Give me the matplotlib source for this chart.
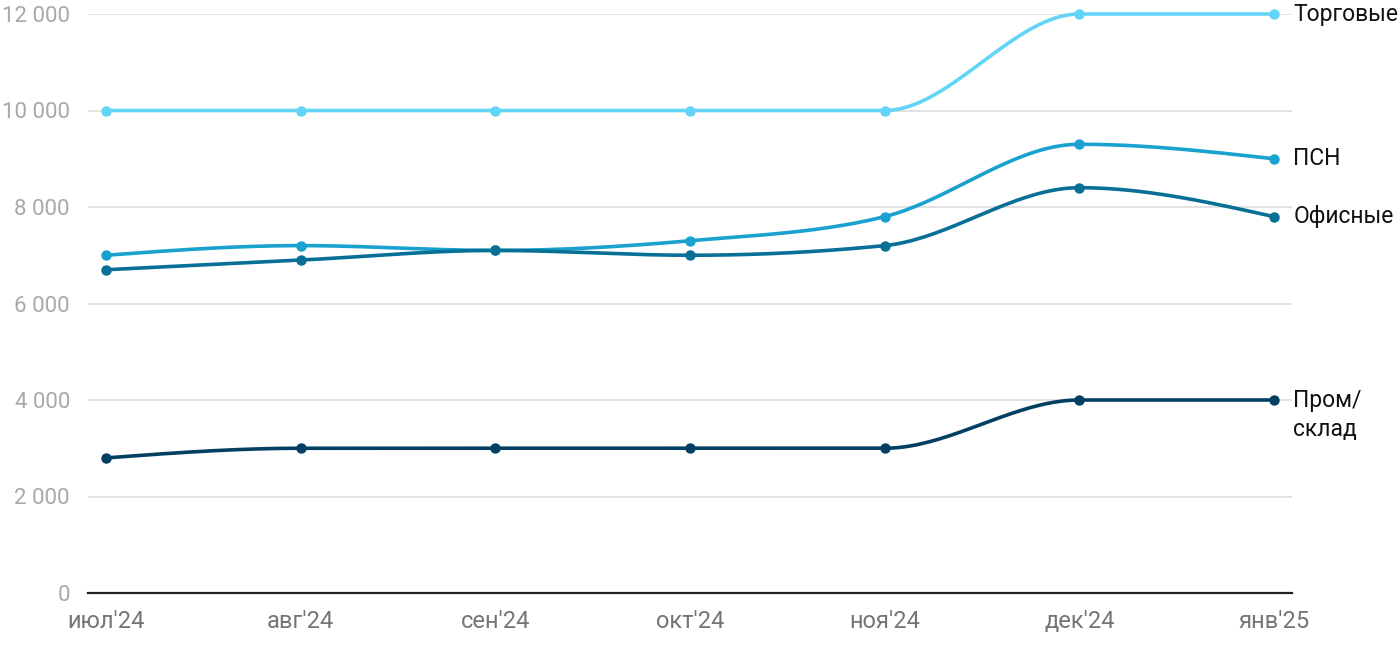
import numpy as np
import matplotlib.pyplot as plt

plt.rcParams['font.family'] = ['Roboto', 'DejaVu Sans']

months = ["июл'24", "авг'24", "сен'24", "окт'24", "ноя'24", "дек'24", "янв'25"]
trade = [10000, 10000, 10000, 10000, 10000, 12000, 12000]
psn = [7000, 7200, 7100, 7300, 7800, 9300, 9000]
office = [6700, 6900, 7100, 7000, 7200, 8400, 7800]
warehouse = [2800, 3000, 3000, 3000, 3000, 4000, 4000]

series = [
    ("Торговые", trade, "#62d4f6"),
    ("ПСН", psn, "#19a2cf"),
    ("Офисные", office, "#086f97"),
    ("Пром/\nсклад", warehouse, "#033f63"),
]


# monotone cubic curve (like d3.curveMonotoneX) for drawing the lines
def monotone_curve(x, y, n=40):
    x = np.asarray(x, float)
    y = np.asarray(y, float)
    h = np.diff(x)
    s = np.diff(y) / h
    t = np.zeros(len(x))
    for i in range(1, len(x) - 1):
        p = (s[i - 1] * h[i] + s[i] * h[i - 1]) / (h[i - 1] + h[i])
        t[i] = (np.sign(s[i - 1]) + np.sign(s[i])) * min(abs(s[i - 1]), abs(s[i]), 0.5 * abs(p))
    t[0] = (3 * s[0] - t[1]) / 2
    t[-1] = (3 * s[-1] - t[-2]) / 2
    xs, ys = [], []
    for i in range(len(x) - 1):
        u = np.linspace(0, 1, n)
        h00 = 2 * u**3 - 3 * u**2 + 1
        h10 = u**3 - 2 * u**2 + u
        h01 = -2 * u**3 + 3 * u**2
        h11 = u**3 - u**2
        xs.append(x[i] + u * h[i])
        ys.append(h00 * y[i] + h10 * h[i] * t[i] + h01 * y[i + 1] + h11 * h[i] * t[i + 1])
    return np.concatenate(xs), np.concatenate(ys)


fig = plt.figure(figsize=(14, 6.5), dpi=100)
ax = fig.add_axes([88 / 1400, 57 / 650, (1292 - 88) / 1400, (593 - 14) / 650])

x = np.arange(len(months))
for name, vals, color in series:
    cx, cy = monotone_curve(x, vals)
    ax.plot(cx, cy, color=color, lw=2.6, zorder=3, clip_on=False, solid_capstyle='round')
    ax.plot(x, vals, 'o', color=color, ms=6.5, zorder=4, clip_on=False)
    # label lines stacked downward from the last value
    for k, line in enumerate(name.split("\n")):
        ax.annotate(line, xy=(1, vals[-1]), xycoords=('axes fraction', 'data'),
                    xytext=(1, -21.5 * k), textcoords='offset points',
                    ha='left', va='center', fontsize=16.5, color='#111111')

ax.set_xlim(-0.093, 6.093)
ax.set_ylim(0, 12000)
ax.set_yticks(range(0, 12001, 2000))
ax.set_yticklabels([f"{v:,}".replace(",", " ") for v in range(0, 12001, 2000)])
ax.set_xticks(x)
ax.set_xticklabels(months)
ax.tick_params(axis='y', length=0, pad=13, labelsize=16, labelcolor='#a9a9a9')
ax.tick_params(axis='x', length=0, pad=12, labelsize=17, labelcolor='#757575')
ax.grid(axis='y', color='#e2e2e2', lw=1.4, zorder=0)
ax.set_axisbelow(True)
for side in ['top', 'right', 'left']:
    ax.spines[side].set_visible(False)
ax.spines['bottom'].set_color('#222222')
ax.spines['bottom'].set_linewidth(1.6)
ax.spines['bottom'].set_zorder(2)

fig.savefig("out.png", dpi=100)
